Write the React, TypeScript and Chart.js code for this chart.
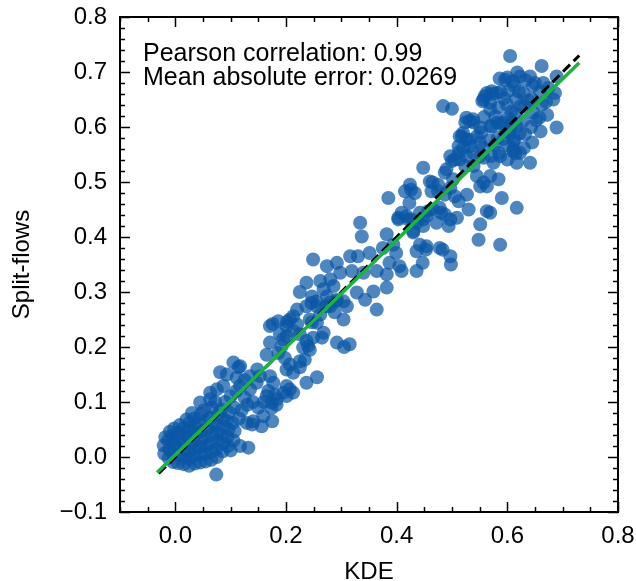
import React, { useEffect, useRef } from "react";
import { Chart, registerables } from "chart.js";

Chart.register(...registerables);

// ---- data: [KDE, Split-flows] pairs ----
const originCluster: number[][] = [
  [-0.02, 0.006], [-0.021, 0.021], [-0.018, 0.036],
  [-0.012, -0.002], [-0.011, 0.014], [-0.013, 0.03], [-0.01, 0.046],
  [-0.004, -0.009], [-0.005, 0.007], [-0.003, 0.023], [-0.006, 0.038], [-0.002, 0.052],
  [0.005, -0.011], [0.006, 0.003], [0.004, 0.018], [0.007, 0.031], [0.005, 0.045], [0.008, 0.058],
  [0.015, -0.013], [0.014, 0.0], [0.016, 0.012], [0.013, 0.026], [0.017, 0.04], [0.015, 0.053],
  [0.025, -0.016], [0.026, -0.003], [0.024, 0.01], [0.027, 0.022], [0.025, 0.036], [0.023, 0.049], [0.026, 0.063],
  [0.035, -0.012], [0.034, 0.002], [0.036, 0.015], [0.033, 0.028], [0.037, 0.042], [0.035, 0.056], [0.034, 0.07],
  [0.045, -0.01], [0.046, 0.005], [0.044, 0.018], [0.047, 0.031], [0.045, 0.046], [0.043, 0.061], [0.046, 0.078],
  [0.055, -0.008], [0.054, 0.006], [0.056, 0.02], [0.053, 0.035], [0.057, 0.05], [0.055, 0.066], [0.052, 0.085],
  [0.065, -0.005], [0.066, 0.01], [0.064, 0.025], [0.067, 0.04], [0.065, 0.055], [0.063, 0.071], [0.066, 0.09],
  [0.075, 0.0], [0.074, 0.015], [0.077, 0.03], [0.075, 0.045], [0.073, 0.06], [0.076, 0.076], [0.072, 0.1],
  [0.085, 0.01], [0.086, 0.025], [0.084, 0.04], [0.087, 0.056], [0.085, 0.07], [0.083, 0.086],
  [0.095, 0.02], [0.094, 0.036], [0.096, 0.05], [0.093, 0.066], [0.097, 0.081],
  [0.105, 0.03], [0.107, 0.047], [0.104, 0.062], [0.106, 0.09],
  [0.03, 0.08], [0.02, 0.068],
  [0.074, -0.032], [0.117, 0.02], [0.132, 0.017], [0.1, 0.012],
];

const lowerBranch: number[][] = [
  [0.129, 0.062], [0.141, 0.065], [0.156, 0.056], [0.159, 0.074], [0.174, 0.089], [0.183, 0.095],
  [0.195, 0.117], [0.201, 0.129], [0.139, 0.059], [0.175, 0.065], [0.115, 0.07], [0.12, 0.085],
  [0.13, 0.095], [0.125, 0.108], [0.14, 0.1], [0.15, 0.09], [0.16, 0.1], [0.165, 0.111],
  [0.183, 0.105], [0.201, 0.111], [0.177, 0.135], [0.168, 0.12], [0.18, 0.113], [0.174, 0.099],
  [0.207, 0.123], [0.237, 0.135], [0.256, 0.145], [0.213, 0.117],
];

const diagonalBand: number[][] = [
  [0.111, 0.144], [0.093, 0.15], [0.117, 0.165], [0.135, 0.147], [0.081, 0.154], [0.114, 0.163],
  [0.148, 0.159], [0.153, 0.147], [0.087, 0.129], [0.075, 0.123], [0.063, 0.117], [0.045, 0.099],
  [0.063, 0.105], [0.117, 0.129], [0.135, 0.123], [0.147, 0.135], [0.171, 0.147], [0.105, 0.172],
  [0.1, 0.11], [0.09, 0.1], [0.11, 0.12], [0.125, 0.14],
];

const middleBand: number[][] = [
  [0.171, 0.238], [0.207, 0.25], [0.201, 0.238], [0.213, 0.229], [0.22, 0.241], [0.22, 0.268],
  [0.237, 0.274], [0.246, 0.28], [0.255, 0.283], [0.273, 0.274], [0.279, 0.281], [0.288, 0.263],
  [0.291, 0.283], [0.265, 0.217], [0.237, 0.211], [0.24, 0.202], [0.231, 0.199], [0.189, 0.223],
  [0.195, 0.214], [0.192, 0.201], [0.186, 0.189], [0.171, 0.208], [0.165, 0.186], [0.198, 0.18],
  [0.207, 0.168], [0.201, 0.159], [0.213, 0.153], [0.225, 0.174], [0.234, 0.177], [0.292, 0.208],
  [0.176, 0.242], [0.186, 0.247], [0.202, 0.246], [0.225, 0.163], [0.243, 0.195], [0.249, 0.217],
  [0.247, 0.245], [0.213, 0.256], [0.243, 0.25], [0.262, 0.259], [0.256, 0.244], [0.268, 0.226],
  [0.201, 0.22], [0.225, 0.223], [0.304, 0.25], [0.305, 0.2], [0.315, 0.205],
];

const upperMiddle: number[][] = [
  [0.334, 0.426], [0.337, 0.401], [0.382, 0.405], [0.403, 0.435], [0.409, 0.444], [0.421, 0.432],
  [0.43, 0.411], [0.442, 0.444], [0.454, 0.438],
  [0.249, 0.359], [0.274, 0.347], [0.292, 0.353], [0.316, 0.365], [0.33, 0.365], [0.351, 0.371],
  [0.375, 0.38], [0.399, 0.371], [0.387, 0.353], [0.405, 0.347], [0.447, 0.353], [0.453, 0.377],
  [0.483, 0.377], [0.498, 0.35],
  [0.298, 0.335], [0.319, 0.338], [0.34, 0.335], [0.364, 0.338], [0.382, 0.332], [0.409, 0.338], [0.436, 0.338],
  [0.237, 0.317], [0.262, 0.32], [0.28, 0.323], [0.268, 0.305], [0.286, 0.311], [0.247, 0.292],
  [0.274, 0.292], [0.256, 0.274], [0.28, 0.274], [0.292, 0.286], [0.304, 0.283], [0.31, 0.274],
  [0.328, 0.299], [0.343, 0.286], [0.358, 0.301], [0.382, 0.308], [0.364, 0.268], [0.225, 0.3],
];

const upperBand: number[][] = [
  [0.524, 0.608], [0.539, 0.608], [0.551, 0.599], [0.518, 0.583], [0.526, 0.577], [0.533, 0.565],
  [0.52, 0.562], [0.512, 0.553], [0.497, 0.547], [0.5, 0.538], [0.49, 0.523], [0.502, 0.505],
  [0.514, 0.541], [0.524, 0.529], [0.539, 0.529], [0.551, 0.547], [0.569, 0.602], [0.581, 0.608],
  [0.593, 0.608], [0.608, 0.608], [0.605, 0.589], [0.611, 0.574], [0.611, 0.556],
  [0.545, 0.511], [0.557, 0.499], [0.569, 0.511], [0.584, 0.505], [0.551, 0.492], [0.563, 0.492],
  [0.448, 0.526], [0.46, 0.501], [0.475, 0.495], [0.487, 0.517], [0.497, 0.489], [0.505, 0.474],
  [0.53, 0.45], [0.527, 0.477], [0.512, 0.465], [0.487, 0.477], [0.475, 0.483], [0.463, 0.483],
  [0.424, 0.495], [0.415, 0.483], [0.433, 0.48], [0.385, 0.471], [0.59, 0.471], [0.563, 0.447],
  [0.569, 0.444], [0.551, 0.423], [0.548, 0.395], [0.587, 0.386], [0.617, 0.453],
  [0.403, 0.432], [0.418, 0.438], [0.427, 0.432], [0.448, 0.432], [0.457, 0.447], [0.466, 0.45],
  [0.478, 0.453], [0.487, 0.441], [0.497, 0.432], [0.494, 0.42], [0.509, 0.435], [0.472, 0.426],
  [0.448, 0.42], [0.436, 0.426], [0.43, 0.408], [0.394, 0.386], [0.442, 0.386], [0.454, 0.383],
  [0.436, 0.374], [0.478, 0.38], [0.497, 0.365], [0.426, 0.486], [0.465, 0.499], [0.48, 0.444],
  [0.423, 0.462],
];

const topCluster: number[][] = [
  [0.556, 0.562], [0.553, 0.59], [0.558, 0.618], [0.555, 0.647],
  [0.571, 0.547], [0.568, 0.576], [0.572, 0.601], [0.569, 0.632], [0.573, 0.66],
  [0.585, 0.553], [0.583, 0.581], [0.587, 0.606], [0.584, 0.636], [0.588, 0.664], [0.586, 0.688],
  [0.6, 0.541], [0.602, 0.566], [0.598, 0.592], [0.601, 0.617], [0.599, 0.641], [0.603, 0.666], [0.6, 0.69],
  [0.615, 0.552], [0.613, 0.577], [0.617, 0.601], [0.614, 0.626], [0.616, 0.651], [0.612, 0.675], [0.618, 0.699],
  [0.63, 0.562], [0.632, 0.587], [0.628, 0.611], [0.631, 0.637], [0.629, 0.661], [0.633, 0.685],
  [0.645, 0.572], [0.643, 0.6], [0.647, 0.626], [0.644, 0.651], [0.646, 0.675],
  [0.66, 0.592], [0.658, 0.617], [0.662, 0.641], [0.659, 0.664],
  [0.672, 0.622], [0.67, 0.646],
  [0.593, 0.578], [0.607, 0.628], [0.622, 0.588], [0.578, 0.619], [0.638, 0.648], [0.594, 0.652],
  [0.621, 0.664], [0.607, 0.604], [0.652, 0.612], [0.578, 0.567], [0.624, 0.638], [0.61, 0.683],
  [0.605, 0.729], [0.662, 0.711], [0.689, 0.692], [0.686, 0.662], [0.689, 0.599], [0.683, 0.65],
  [0.596, 0.686], [0.623, 0.692], [0.641, 0.692], [0.65, 0.68], [0.665, 0.68], [0.674, 0.671],
  [0.563, 0.662], [0.572, 0.665], [0.581, 0.662], [0.557, 0.65], [0.569, 0.644],
  [0.532, 0.611], [0.526, 0.617], [0.538, 0.614], [0.514, 0.583], [0.52, 0.589], [0.532, 0.577],
  [0.545, 0.583], [0.551, 0.571], [0.512, 0.565], [0.505, 0.541], [0.526, 0.547], [0.538, 0.553],
  [0.557, 0.544], [0.575, 0.535], [0.587, 0.547], [0.617, 0.535], [0.641, 0.535], [0.623, 0.553],
  [0.611, 0.559], [0.559, 0.656], [0.484, 0.638], [0.5, 0.633],
];

// reference lines
const identityLine: number[][] = [[-0.03, -0.03], [0.73, 0.73]];
const fitLine: number[][] = [[-0.033, -0.028], [0.73, 0.717]];

// axes
const xMajorTicks = [0.0, 0.2, 0.4, 0.6, 0.8];
const yMajorTicks = [-0.1, 0.0, 0.1, 0.2, 0.3, 0.4, 0.5, 0.6, 0.7, 0.8];
const xMinorStep = 0.05;
const yMinorStep = 0.02;
const xLabel = "KDE";
const yLabel = "Split-flows";
const annotationLines = ["Pearson correlation: 0.99", "Mean absolute error: 0.0269"];

const FONT = '"Liberation Sans", Arial, Helvetica, sans-serif';

const toXY = (arr: number[][]) => arr.map(([x, y]) => ({ x, y }));
const fmt = (v: number) => {
  const r = Math.round(v * 10) / 10;
  return r < 0 ? "\u2212" + Math.abs(r).toFixed(1) : r.toFixed(1);
};

const framePlugin = {
  id: "frameTicks",
  afterDraw(chart: any) {
    const { ctx, chartArea: a, scales } = chart;
    const xs = scales.x;
    const ys = scales.y;
    ctx.save();
    ctx.strokeStyle = "#000";
    ctx.lineWidth = 1.5;
    const seg = (x1: number, y1: number, x2: number, y2: number) => {
      ctx.beginPath();
      ctx.moveTo(x1, y1);
      ctx.lineTo(x2, y2);
      ctx.stroke();
    };
    const isMajor = (v: number, list: number[]) => list.some((m) => Math.abs(m - v) < 1e-6);
    for (let i = 0; ; i++) {
      const v = xs.min + i * xMinorStep;
      if (v > xs.max + 1e-9) break;
      const len = isMajor(v, xMajorTicks) ? 10 : 5;
      const px = Math.round(xs.getPixelForValue(v)) + 0.5;
      seg(px, a.bottom, px, a.bottom - len);
      seg(px, a.top, px, a.top + len);
    }
    for (let i = 0; ; i++) {
      const v = ys.min + i * yMinorStep;
      if (v > ys.max + 1e-9) break;
      const len = isMajor(v, yMajorTicks) ? 10 : 5;
      const py = Math.round(ys.getPixelForValue(v)) + 0.5;
      seg(a.left, py, a.left + len, py);
      seg(a.right, py, a.right - len, py);
    }
    ctx.lineWidth = 2;
    ctx.strokeRect(a.left, a.top, a.right - a.left, a.bottom - a.top);

    ctx.fillStyle = "#000";
    ctx.font = "25px " + FONT;
    ctx.textAlign = "left";
    ctx.textBaseline = "alphabetic";
    ctx.fillText(annotationLines[0], a.left + 23, a.top + 44);
    ctx.fillText(annotationLines[1], a.left + 23, a.top + 68);
    ctx.restore();
  },
};

export default function App() {
  const ref = useRef<HTMLCanvasElement | null>(null);

  useEffect(() => {
    if (!ref.current) return;
    const points = [
      ...originCluster,
      ...lowerBranch,
      ...diagonalBand,
      ...middleBand,
      ...upperMiddle,
      ...upperBand,
      ...topCluster,
    ];
    const chart = new Chart(ref.current, {
      type: "scatter",
      data: {
        datasets: [
          {
            data: toXY(points),
            backgroundColor: "rgba(10, 88, 166, 0.72)",
            borderWidth: 0,
            pointRadius: 7,
            order: 3,
          },
          {
            data: toXY(identityLine),
            showLine: true,
            borderColor: "#000",
            borderWidth: 3,
            borderDash: [10, 5],
            pointRadius: 0,
            order: 2,
          } as any,
          {
            data: toXY(fitLine),
            showLine: true,
            borderColor: "rgb(28, 180, 64)",
            borderWidth: 3.5,
            pointRadius: 0,
            order: 1,
          } as any,
        ],
      },
      options: {
        animation: false,
        responsive: false,
        devicePixelRatio: 1,
        layout: { padding: { top: 17, right: 18, left: 0, bottom: 0 } },
        plugins: { legend: { display: false }, tooltip: { enabled: false } },
        scales: {
          x: {
            type: "linear",
            min: -0.1,
            max: 0.8,
            grid: { display: false, drawTicks: false },
            border: { display: false },
            afterBuildTicks: (s: any) => {
              s.ticks = xMajorTicks.map((v) => ({ value: v }));
            },
            afterFit: (s: any) => {
              s.height = 69;
              s.paddingLeft = 0;
              s.paddingRight = 0;
            },
            ticks: {
              padding: 10,
              color: "#000",
              font: { family: FONT, size: 24 },
              maxRotation: 0,
              autoSkip: false,
              callback: (v: any) => fmt(Number(v)),
            },
            title: {
              display: true,
              text: xLabel,
              color: "#000",
              font: { family: FONT, size: 24, lineHeight: 0.75 },
              padding: 0,
            },
          },
          y: {
            type: "linear",
            min: -0.1,
            max: 0.8,
            grid: { display: false, drawTicks: false },
            border: { display: false },
            afterBuildTicks: (s: any) => {
              s.ticks = yMajorTicks.map((v) => ({ value: v }));
            },
            afterFit: (s: any) => {
              s.width = 120;
              s.paddingTop = 0;
              s.paddingBottom = 0;
            },
            ticks: {
              padding: 13,
              color: "#000",
              font: { family: FONT, size: 24 },
              autoSkip: false,
              callback: (v: any) => fmt(Number(v)),
            },
            title: {
              display: true,
              text: yLabel,
              color: "#000",
              font: { family: FONT, size: 24, lineHeight: 1.2 },
              padding: { top: 8, bottom: 0 },
            },
          },
        },
      },
      plugins: [framePlugin],
    });
    return () => chart.destroy();
  }, []);

  return (
    <div style={{ position: "absolute", left: 0, top: 0, width: 636, height: 581, background: "#fff" }}>
      <canvas ref={ref} width={636} height={581} style={{ display: "block", width: 636, height: 581 }} />
    </div>
  );
}
